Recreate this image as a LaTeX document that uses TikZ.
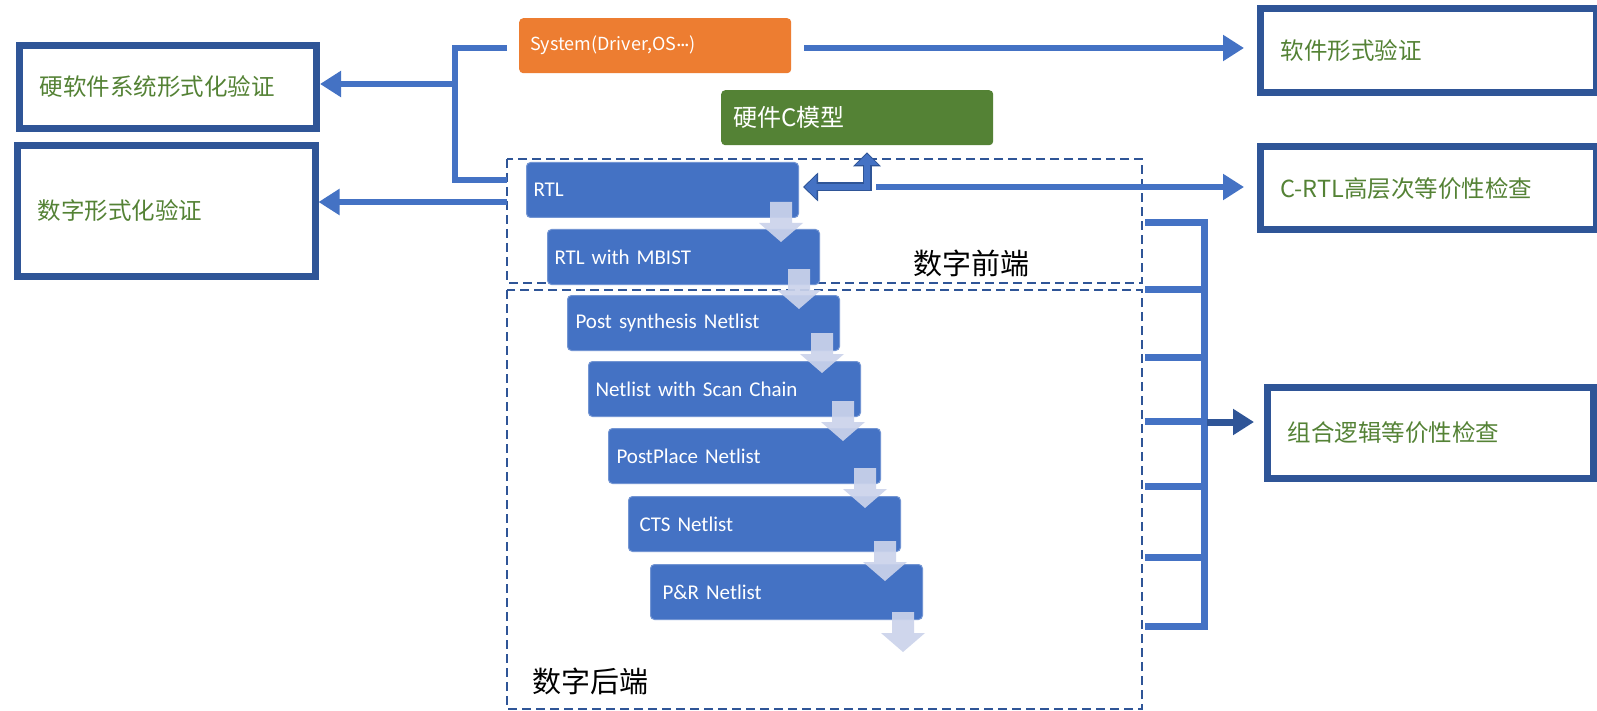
\documentclass[tikz,border=0pt]{standalone}
\usepackage{fontspec}
\setmainfont{Carlito}
\newfontfamily\cjk{Noto Sans CJK SC}
\newfontfamily\latn{Carlito}
\usetikzlibrary{arrows.meta}
\definecolor{bl}{HTML}{4472C4}
\definecolor{dbl}{HTML}{2F5597}
\definecolor{og}{HTML}{ED7D31}
\definecolor{gr}{HTML}{548235}
\definecolor{arw}{HTML}{CBD3EB}
\newcommand\dnarrow[2]{\fill[arw,fill opacity=0.92] (#1-11,#2) -- (#1+11,#2) -- (#1+11,#2+21) -- (#1+22,#2+21) -- (#1,#2+40) -- (#1-22,#2+21) -- (#1-11,#2+21) -- cycle;}
\begin{document}
\begin{tikzpicture}[x=1pt,y=-1pt,
  vbox/.style={draw=dbl,line width=7pt,fill=white,anchor=north west,inner xsep=20pt,inner ysep=0pt,align=left,font=\cjk\fontsize{23.5}{28}\selectfont,text=gr},
  stage/.style={fill=bl,draw=bl!75!white,line width=1pt,rounded corners=4pt,anchor=north west,inner ysep=0pt,minimum height=55pt,align=left,text=white,font=\fontsize{21}{25}\selectfont},
  frame/.style={draw=dbl,line width=2.5pt,dash pattern=on 9pt off 5pt},
  conn/.style={draw=bl,line width=6.5pt},
  tip/.style={-{Triangle[length=21pt,width=25pt]}},
  lbl/.style={font=\cjk\fontsize{29}{34}\selectfont,anchor=west,inner sep=0pt}]
\useasboundingbox (0,0) rectangle (1597,711);
\fill[white] (0,0) rectangle (1597,711);

% frames
\draw[frame] (507,159) rectangle (1142,283);
\draw[frame] (507,290) rectangle (1142,709);
\node[lbl] (fe) at (913,263) {数字前端};
\node[lbl] (be) at (532,681) {数字后端};

% verification boxes
\node[vbox,text width=257pt,minimum height=83pt] (hw) at (16,42) {硬软件系统形式化验证};
\node[vbox,text width=257.5pt,minimum height=131pt] (dv) at (14,142) {数字形式化验证};
\node[vbox,text width=296pt,minimum height=84pt] (sw) at (1257,5) {软件形式验证};
\node[vbox,text width=296pt,minimum height=83.5pt] (crtl) at (1257,143) {C-RTL高层次等价性检查};
\node[vbox,text width=286pt,minimum height=90.5pt] (comb) at (1264,384) {组合逻辑等价性检查};

% top boxes
\node[fill=og,rounded corners=4pt,anchor=north west,inner xsep=11pt,inner ysep=0pt,text width=250pt,minimum height=55pt,align=left,text=white,font=\cjk\fontsize{18}{22}\selectfont] (sys) at (519,18) {System(Driver,OS{\latn\kern0.5pt·\kern-0.5pt·\kern-0.5pt·})};
\node[fill=gr,rounded corners=4pt,anchor=north west,inner xsep=12pt,inner ysep=0pt,text width=248pt,minimum height=55pt,align=left,text=white,font=\cjk\fontsize{24}{28}\selectfont] (gm) at (721,90) {硬件C模型};

% stage boxes
\node[stage,inner xsep=7pt,text width=258pt] (rtl) at (526,162) {RTL};
\node[stage,inner xsep=7pt,text width=258pt] (mbist) at (547,229) {RTL with MBIST};
\node[stage,inner xsep=8pt,text width=256pt] (post) at (567,295) {Post synthesis Netlist};
\node[stage,inner xsep=7pt,text width=258pt] (scan) at (588,361) {Netlist with Scan Chain};
\node[stage,inner xsep=8pt,text width=256pt] (pplace) at (608,428) {PostPlace Netlist};
\node[stage,inner xsep=11pt,text width=250pt] (cts) at (628,496) {CTS Netlist};
\node[stage,inner xsep=12pt,text width=248pt] (pnr) at (650,564) {P\&R Netlist};

% down arrows
\dnarrow{781}{202}
\dnarrow{799}{269}
\dnarrow{822}{333}
\dnarrow{843}{401}
\dnarrow{865}{468}
\dnarrow{885}{541}
\dnarrow{903}{612}

% left connectors
\coordinate (sysL) at (507,48);
\coordinate (rtlL) at (507,180);
\coordinate (tr1) at (455,48);
\coordinate (tr2) at (455,180);
\coordinate (j1) at (455,84);
\coordinate (j2) at (507,202);
\draw[conn] (sysL) -- (tr1) -- (tr2) -- (rtlL);
\draw[conn,tip] (j1) -- (j1 -| hw.east);
\draw[conn,tip] (j2) -- (j2 -| dv.east);

% right connectors
\coordinate (a1) at (804,48);
\draw[conn,tip,shorten >=13pt] (a1) -- (a1 -| sw.west);
\coordinate (b0) at (804,187);
\coordinate (b1) at (867,187);
\draw[draw=dbl,line width=9pt,{Triangle[length=15pt,width=28pt]}-{Triangle[length=14pt,width=27pt]},shorten >=7pt,shorten <=-1pt] (b0) -- (b1) -- (b1 |- gm.south);
\draw[conn,line width=6pt,{Triangle[length=12pt,width=23pt]}-{Triangle[length=11pt,width=22pt]},shorten >=8.5pt,shorten <=0.5pt] (b0) -- (b1) -- (b1 |- gm.south);
\coordinate (c1) at (876,187);
\draw[conn,tip,shorten >=13pt] (c1) -- (c1 -| crtl.west);

% comb
\draw[conn,line width=7pt] (1145,223) -- (1204,223) -- (1204,626) -- (1145,626);
\foreach \yy in {289,357,421,486,557} {\draw[conn,line width=7pt] (1145,\yy) -- (1204,\yy);}
\coordinate (k1) at (1207,422);
\draw[draw=dbl,line width=7pt,tip,shorten >=10pt] (k1) -- (k1 -| comb.west);
\end{tikzpicture}
\end{document}
